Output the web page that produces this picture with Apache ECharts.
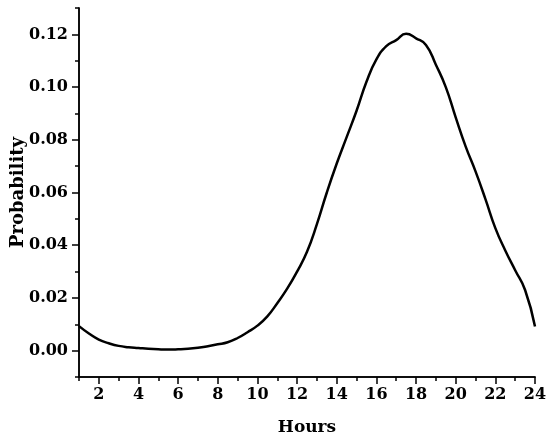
<!DOCTYPE html>
<html>
<head>
<meta charset="utf-8">
<script src="https://cdn.jsdelivr.net/npm/echarts@6/dist/echarts.min.js"></script>
<style>html,body{margin:0;padding:0;background:#fff;}#c{width:550px;height:440px;}</style>
</head>
<body>
<div id="c"></div>
<script>
var hours = [1,1.5,2,2.5,3,3.5,4,4.5,5,5.5,6,6.5,7,7.5,8,8.5,9,9.5,10,10.5,11,11.5,12,12.5,13,13.5,14,14.5,15,15.5,16,16.5,17,17.5,18,18.5,19,19.5,20,20.5,21,21.5,22,22.5,23,23.5,24];
var probability = [0.0093,0.0065,0.0042,0.0028,0.0018,0.0013,0.0010,0.0007,0.0005,0.0004,0.0005,0.0007,0.0011,0.0017,0.0024,0.0032,0.0048,0.0070,0.0095,0.0130,0.0180,0.0235,0.0300,0.0375,0.0480,0.0600,0.0710,0.0810,0.0910,0.1020,0.1105,0.1155,0.1178,0.1202,0.1185,0.1160,0.1085,0.1000,0.0885,0.0775,0.0680,0.0575,0.0465,0.0380,0.0305,0.0230,0.0092];
var xMajorTicks = [2,4,6,8,10,12,14,16,18,20,22,24];
var xMinorTicks = [1,3,5,7,9,11,13,15,17,19,21,23];
var yMajorTicks = [0,0.02,0.04,0.06,0.08,0.10,0.12];
var yMinorTicks = [-0.01,0.01,0.03,0.05,0.07,0.09,0.11,0.13];

var FONT = 'DejaVu Serif';
var chart = echarts.init(document.getElementById('c'));
var lineStyle = {color:'#000', width:1.5};
var labelStyle = {color:'#000', fontFamily:FONT, fontWeight:'bold', fontSize:16};
chart.setOption({
  animation:false,
  grid:{left:79, right:15, top:8, bottom:63, containLabel:false, outerBoundsMode:'none'},
  xAxis:[{
    type:'value', min:1, max:24,
    name:'Hours', nameLocation:'middle', nameGap:42, nameMoveOverlap:false,
    nameTextStyle:{color:'#000', fontFamily:FONT, fontWeight:'bold', fontSize:17},
    axisLine:{show:true, onZero:false, lineStyle:lineStyle},
    axisTick:{show:true, length:7, lineStyle:lineStyle, customValues:xMajorTicks},
    axisLabel:Object.assign({margin:10, customValues:xMajorTicks, formatter:function(v){return String(v);}}, labelStyle),
    splitLine:{show:false}
  },{
    type:'value', min:1, max:24, position:'bottom',
    axisLine:{show:true, onZero:false, lineStyle:lineStyle},
    axisTick:{show:true, length:4, lineStyle:lineStyle, customValues:xMinorTicks},
    axisLabel:{show:false},
    splitLine:{show:false}
  }],
  yAxis:[{
    type:'value', min:-0.01, max:0.13,
    name:'Probability', nameLocation:'middle', nameGap:52, nameMoveOverlap:false,
    nameTextStyle:{color:'#000', fontFamily:FONT, fontWeight:'bold', fontSize:18},
    axisLine:{show:true, onZero:false, lineStyle:lineStyle},
    axisTick:{show:true, length:7, lineStyle:lineStyle, customValues:yMajorTicks},
    axisLabel:Object.assign({margin:11, customValues:yMajorTicks, formatter:function(v){return v.toFixed(2);}}, labelStyle),
    splitLine:{show:false}
  },{
    type:'value', min:-0.01, max:0.13, position:'left',
    axisLine:{show:true, onZero:false, lineStyle:lineStyle},
    axisTick:{show:true, length:4, lineStyle:lineStyle, customValues:yMinorTicks},
    axisLabel:{show:false},
    splitLine:{show:false}
  }],
  series:[{
    type:'line',
    data:hours.map(function(h,i){return [h, probability[i]];}),
    smooth:0.5, showSymbol:false, symbol:'none',
    lineStyle:{color:'#000', width:2.5},
    xAxisIndex:0, yAxisIndex:0
  }]
});
</script>
</body>
</html>
